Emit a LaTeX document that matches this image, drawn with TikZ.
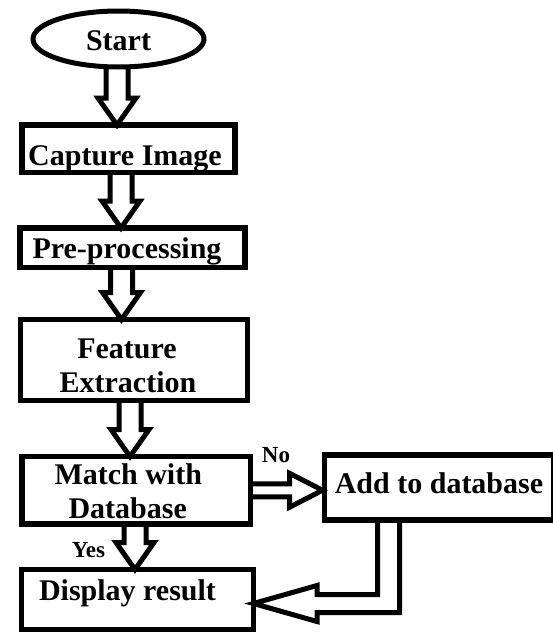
\documentclass[tikz,border=0pt]{standalone}
\usepackage{fontspec}
\setmainfont{Liberation Serif}
\usetikzlibrary{shapes.geometric,calc}

\tikzset{
  block/.style={draw,line width=5.5pt,rectangle,inner sep=0pt,outer sep=0pt,
    font=\fontsize{30}{34}\selectfont\bfseries,align=center},
  term/.style={draw,line width=5pt,ellipse,inner sep=0pt,outer sep=0pt,
    font=\fontsize{30}{34}\selectfont\bfseries},
  lbl/.style={font=\fontsize{23}{26}\selectfont\bfseries,inner sep=0pt},
  hollow/.style={line width=5pt,line join=miter,miter limit=10}
}

% hollow block arrow pointing down: [x shift]{from}{to}
\newcommand{\downblk}[3][0]{%
  \draw[hollow] let \p1=($(#2.south)+(#1pt,0)$), \p2=(#3.north) in
    (\x1-11pt,\y1) -- (\x1-11pt,\y2+27pt) -- (\x1-19pt,\y2+27pt)
    -- (\x1,\y2) -- (\x1+19pt,\y2+27pt) -- (\x1+11pt,\y2+27pt)
    -- (\x1+11pt,\y1);}
% text sits a bit left of the box centre
\newcommand{\padr}[1]{\hspace*{#1pt}}

\begin{document}
\begin{tikzpicture}[x=1pt,y=1pt]
  \useasboundingbox (0,0) rectangle (553,-632);

  \node[term,minimum width=171pt,minimum height=56pt,text height=22pt,text depth=0pt] (start) at (118.5,-39) {Start};
  \node[block,minimum width=213pt,minimum height=47.5pt,text height=40pt,text depth=7.5pt] (capture) at (128.5,-148.75) {Capture Image\padr{7}};
  \node[block,minimum width=225pt,minimum height=39.5pt,text height=30pt,text depth=9.5pt] (prep) at (132.5,-247.75) {Pre-processing\padr{11}};
  \node[block,minimum width=227pt,minimum height=81pt,text height=72.5pt,text depth=8.5pt] (feat) at (134,-360) {Feature\padr{14}\\Extraction\padr{12}};
  \node[block,minimum width=228.5pt,minimum height=67.5pt,text height=61.5pt,text depth=6pt] (match) at (136.25,-490.25) {Match with\padr{16}\\Database\padr{17}};
  \node[block,minimum width=232pt,minimum height=60pt,text height=30.5pt,text depth=29.5pt] (display) at (137.5,-599.5) {Display result\padr{20}};
  \node[block,minimum width=229pt,minimum height=65pt,text height=38pt,text depth=27pt] (add) at (439,-487.5) {Add to database};

  \node[lbl] (no) at (276,-455.5) {No};
  \node[lbl] (yes) at (88.5,-550.5) {Yes};

  \downblk[-1.5]{start}{capture}
  \downblk[-7.5]{capture}{prep}
  \downblk[-11]{prep}{feat}
  \downblk[-4]{feat}{match}
  \downblk[-1.25]{match}{display}

  % no: to the right
  \draw[hollow] let \p1=(match.east), \p2=(add.west) in
    (\x1,\y1+6.5pt) -- (\x2-35pt,\y1+6.5pt) -- (\x2-35pt,\y1+17pt) -- (\x2-2pt,\y1)
    -- (\x2-35pt,\y1-17pt) -- (\x2-35pt,\y1-6.5pt) -- (\x1,\y1-6.5pt);

  % back from the database to the result
  \draw[hollow] let \p1=(add.south), \p2=(display.east) in
    (\x1-61.5pt,\y1) -- (\x1-61.5pt,\y2+5pt) -- (\x2+63.5pt,\y2+5pt) -- (\x2+63.5pt,\y2+14pt)
    -- (\x2,\y2-4pt) -- (\x2+63.5pt,\y2-22pt) -- (\x2+63.5pt,\y2-13pt)
    -- (\x1-39.5pt,\y2-13pt) -- (\x1-39.5pt,\y1);
\end{tikzpicture}
\end{document}
